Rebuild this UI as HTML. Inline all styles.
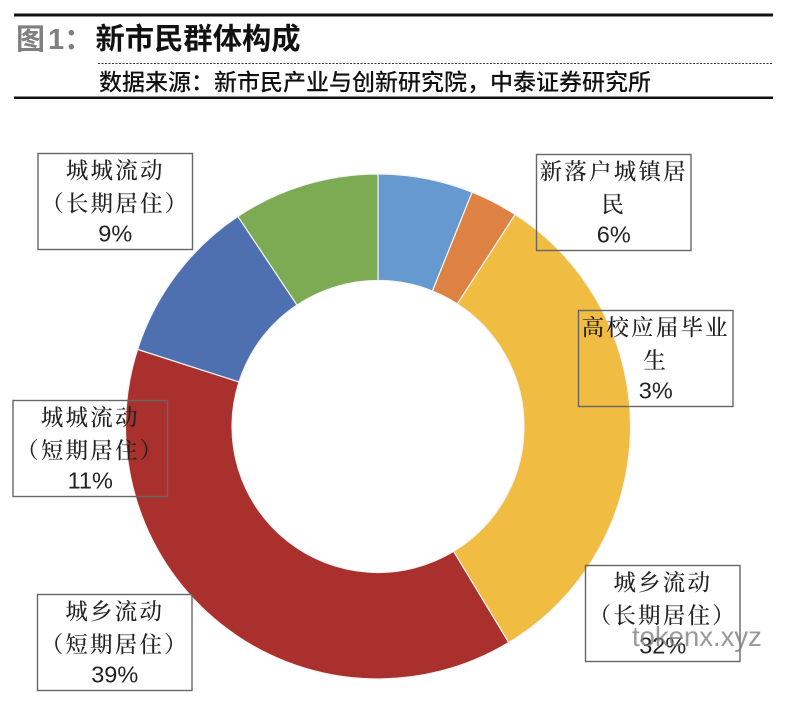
<!DOCTYPE html>
<html lang="zh">
<head>
<meta charset="utf-8">
<title>新市民群体构成</title>
<style>
html,body{margin:0;padding:0;background:#fff;}
body{width:787px;height:704px;overflow:hidden;position:relative;}
svg{display:block;position:absolute;left:0;top:0;}
.cjk{font-family:"Noto Serif CJK SC","Liberation Serif",serif;font-size:22.5px;font-weight:500;fill:#222;letter-spacing:2.2px;}
.pct{font-family:"Liberation Sans",sans-serif;font-size:23.5px;fill:#222;}
</style>
</head>
<body>
<svg width="787" height="704" viewBox="0 0 787 704" xmlns="http://www.w3.org/2000/svg">
  <rect x="14" y="13.5" width="759" height="3" fill="#111"/>
  <text x="16" y="49" font-family="'Noto Sans CJK SC',sans-serif" font-weight="700" font-size="29" fill="#7f7f7f">图<tspan font-family="'Liberation Sans',sans-serif" dx="3">1</tspan><tspan dx="0">：</tspan></text>
  <text x="95.5" y="49" font-family="'Noto Sans CJK SC',sans-serif" font-weight="700" font-size="29.3" fill="#111">新市民群体构成</text>
  <line x1="98" y1="63.5" x2="773" y2="63.5" stroke="#333" stroke-width="1" stroke-dasharray="2 1.5"/>
  <text x="99" y="90" font-family="'Noto Sans CJK SC',sans-serif" font-weight="500" font-size="23" fill="#111">数据来源：新市民产业与创新研究院，中泰证券研究所</text>
  <rect x="14" y="96.5" width="759" height="2.5" fill="#111"/>
  <g id="slices"></g>
  <g id="labels"></g>
  <text x="632" y="646" font-family="'Liberation Sans',sans-serif" font-size="27.5" fill="#808080" fill-opacity="0.8">tokenx.xyz</text>
</svg>
<script>
const categories = ['新落户城镇居民', '高校应届毕业生', '城乡流动(长期居住)', '城乡流动(短期居住)', '城城流动(短期居住)', '城城流动(长期居住)'];
const shares = [6.08, 3.06, 32.2, 38.6, 10.7, 9.36];
const sliceColors = ['#6699cf', '#de8244', '#f0bc42', '#a9302c', '#4e70b0', '#7dab54'];
const labelLine1 = ['新落户城镇居', '高校应届毕业', '城乡流动', '城乡流动', '城城流动', '城城流动'];
const labelLine2 = ['民', '生', '（长期居住）', '（短期居住）', '（短期居住）', '（长期居住）'];
const labelBoxLeft = [536.5, 578.5, 585.5, 37.5, 13, 38];
const labelBoxTop = [154.5, 310.5, 565.5, 594.5, 400.5, 153.5];

const NS = 'http://www.w3.org/2000/svg';
const cx = 378, cy = 426.5, rOuter = 252.5, rInner = 146;
const boxW = 154.5, boxH = 96;
const slicesG = document.getElementById('slices');
const labelsG = document.getElementById('labels');
const total = shares.reduce(function (a, b) { return a + b; }, 0);

function angleOf(v) { return v / total * Math.PI * 2 - Math.PI / 2; }
function px(r, a) { return (cx + r * Math.cos(a)).toFixed(2); }
function py(r, a) { return (cy + r * Math.sin(a)).toFixed(2); }

let running = 0;
shares.forEach(function (v, i) {
  const a0 = angleOf(running);
  running += v;
  const a1 = angleOf(running);
  const large = v / total > 0.5 ? 1 : 0;
  const d = 'M' + px(rOuter, a0) + ' ' + py(rOuter, a0) +
    'A' + rOuter + ' ' + rOuter + ' 0 ' + large + ' 1 ' + px(rOuter, a1) + ' ' + py(rOuter, a1) +
    'L' + px(rInner, a1) + ' ' + py(rInner, a1) +
    'A' + rInner + ' ' + rInner + ' 0 ' + large + ' 0 ' + px(rInner, a0) + ' ' + py(rInner, a0) + 'Z';
  const p = document.createElementNS(NS, 'path');
  p.setAttribute('d', d);
  p.setAttribute('fill', sliceColors[i]);
  p.setAttribute('stroke', '#f4f4f4');
  p.setAttribute('stroke-width', '1.2');
  
  
  const t = document.createElementNS(NS, 'title');
  t.textContent = categories[i] + ' ' + Math.round(v) + '%';
  p.appendChild(t);
  slicesG.appendChild(p);
});

function addText(cls, x, y, str, name) {
  const t = document.createElementNS(NS, 'text');
  t.setAttribute('class', cls);
  t.setAttribute('x', x);
  t.setAttribute('y', y);
  t.setAttribute('text-anchor', 'middle');
  
  
  t.textContent = str;
  labelsG.appendChild(t);
}

shares.forEach(function (v, i) {
  const x = labelBoxLeft[i], y = labelBoxTop[i], mid = x + boxW / 2;
  const r = document.createElementNS(NS, 'rect');
  r.setAttribute('x', x);
  r.setAttribute('y', y);
  r.setAttribute('width', boxW);
  r.setAttribute('height', boxH);
  r.setAttribute('fill', 'none');
  r.setAttribute('stroke', '#666');
  r.setAttribute('stroke-width', '1.4');
  
  
  labelsG.appendChild(r);
  addText('cjk', mid, y + 25, labelLine1[i], 'label-line-one-' + (i + 1));
  addText('cjk', mid, y + 58, labelLine2[i], 'label-line-two-' + (i + 1));
  addText('pct', mid, y + 88, Math.round(v) + '%', 'label-percent-' + (i + 1));
});
</script>
</body>
</html>
